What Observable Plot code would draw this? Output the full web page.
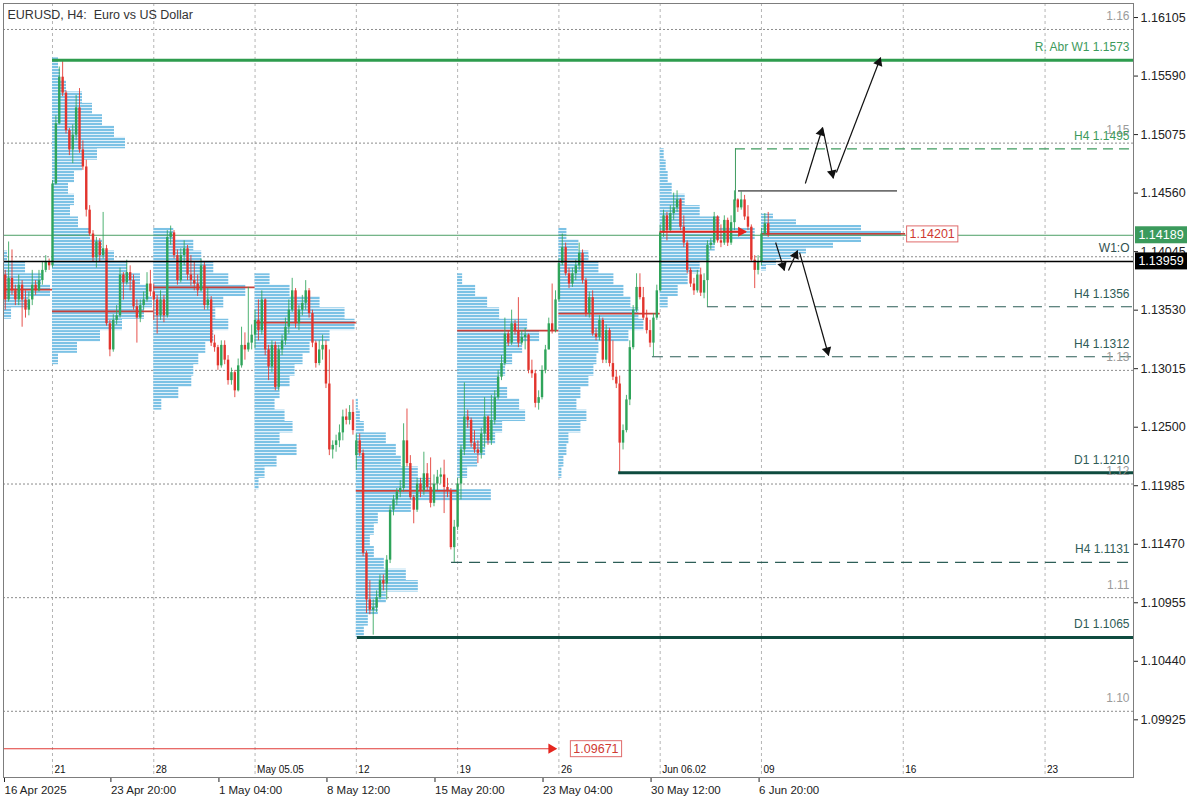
<!DOCTYPE html>
<html>
<head>
<meta charset="utf-8">
<script src="https://cdn.jsdelivr.net/npm/d3@7"></script>
<script src="https://cdn.jsdelivr.net/npm/@observablehq/plot@0.6"></script>
<style>
  html, body { margin: 0; padding: 0; background: #fff; }
  #chart { width: 1200px; height: 800px; }
  #chart svg { display: block; }
</style>
</head>
<body>
<div id="chart"></div>
<script>
// ---------------- DATA ----------------
// H4 bars, x = bar index (0 = Mon 21 Apr 2025 00:00)
const firstBar = -14;
const firstOpen = 1.1384;
const gapOpen = {90: 1.1225};

const closePrices = [
  1.1362,1.1381,1.1370,1.1362,1.1375,1.1362,1.1353,1.1362,1.1375,1.1370,1.1379,1.1388,1.1395,1.1392,
  1.1464,1.1517,1.1558,1.1544,1.1511,1.1494,1.1507,1.1531,1.1494,1.1479,1.1441,1.1420,1.1399,1.1413,1.1401,1.1407,1.1341,1.1318,1.1344,1.1348,1.1384,1.1377,1.1386,1.1379,1.1356,1.1346,1.1357,1.1362,1.1376,1.1369,
  1.1362,1.1348,1.1362,1.1348,1.1417,1.1421,1.1401,1.1379,1.1401,1.1407,1.1384,1.1379,1.1376,1.1370,1.1392,1.1357,1.1362,1.1324,1.1320,1.1304,1.1322,1.1309,1.1291,1.1298,1.1282,1.1304,1.1322,1.1318,1.1324,1.1331,
  1.1344,1.1335,1.1362,1.1318,1.1303,1.1322,1.1285,1.1318,1.1326,1.1338,1.1353,1.1370,1.1341,1.1353,1.1359,1.1370,1.1350,1.1324,1.1306,1.1318,1.1322,1.1288,1.1230,1.1234,1.1238,1.1245,1.1259,1.1256,1.1263,1.1247,
  1.1238,1.1227,1.1139,1.1098,1.1089,1.1091,1.1100,1.1115,1.1112,1.1133,1.1177,1.1186,1.1193,1.1196,1.1238,1.1218,1.1188,1.1177,1.1200,1.1194,1.1209,1.1197,1.1183,1.1200,1.1206,1.1208,1.1197,1.1194,1.1144,1.1162,
  1.1200,1.1230,1.1259,1.1256,1.1236,1.1230,1.1227,1.1244,1.1259,1.1238,1.1256,1.1276,1.1294,1.1306,1.1332,1.1324,1.1341,1.1335,1.1324,1.1329,1.1331,1.1300,1.1297,1.1271,1.1276,1.1300,1.1318,1.1341,1.1335,1.1362,
  1.1394,1.1408,1.1385,1.1376,1.1385,1.1392,1.1403,1.1379,1.1350,1.1364,1.1332,1.1329,1.1344,1.1309,1.1335,1.1306,1.1294,1.1288,1.1236,1.1247,1.1274,1.1320,1.1353,1.1373,1.1364,1.1346,1.1335,1.1324,1.1346,1.1370,
  1.1421,1.1436,1.1423,1.1438,1.1443,1.1450,1.1426,1.1412,1.1388,1.1376,1.1370,1.1384,1.1368,1.1379,1.1410,1.1412,1.1435,1.1414,1.1412,1.1432,1.1412,1.1430,1.1450,1.1443,1.1450,1.1435,1.1426,1.1397,1.1388,1.1395,
  1.1420,1.1429,1.14189
];
const highPrices = [
  1.1388,1.1413,1.1406,1.1375,1.1384,1.1379,1.1370,1.1369,1.1388,1.1379,1.1388,1.1395,1.1401,1.1398,
  1.1467,1.1524,1.1567,1.1573,1.1546,1.1513,1.1516,1.1542,1.1548,1.1502,1.1485,1.1445,1.1423,1.1417,1.1416,1.1439,1.1410,1.1344,1.1349,1.1357,1.1390,1.1386,1.1397,1.1392,1.1384,1.1362,1.1362,1.1369,1.1386,1.1388,
  1.1376,1.1366,1.1370,1.1366,1.1423,1.1427,1.1423,1.1406,1.1407,1.1414,1.1410,1.1401,1.1395,1.1384,1.1398,1.1395,1.1372,1.1365,1.1331,1.1322,1.1326,1.1326,1.1313,1.1302,1.1300,1.1310,1.1338,1.1333,1.1373,1.1340,
  1.1353,1.1362,1.1370,1.1363,1.1322,1.1326,1.1325,1.1322,1.1331,1.1346,1.1362,1.1381,1.1372,1.1357,1.1366,1.1379,1.1372,1.1353,1.1326,1.1326,1.1331,1.1326,1.1318,1.1238,1.1243,1.1252,1.1265,1.1266,1.1269,1.1274,
  1.1244,1.1244,1.1230,1.1141,1.1115,1.1098,1.1106,1.1120,1.1120,1.1137,1.1181,1.1190,1.1196,1.1203,1.1253,1.1266,1.1225,1.1190,1.1205,1.1205,1.1228,1.1218,1.1223,1.1208,1.1212,1.1214,1.1221,1.1205,1.1196,1.1168,
  1.1205,1.1234,1.1289,1.1265,1.1258,1.1247,1.1238,1.1249,1.1276,1.1260,1.1278,1.1282,1.1300,1.1313,1.1346,1.1335,1.1353,1.1344,1.1364,1.1335,1.1337,1.1332,1.1309,1.1300,1.1282,1.1304,1.1322,1.1346,1.1376,1.1370,
  1.1398,1.1420,1.1412,1.1390,1.1390,1.1397,1.1412,1.1406,1.1381,1.1369,1.1370,1.1337,1.1348,1.1346,1.1340,1.1337,1.1326,1.1300,1.1295,1.1252,1.1278,1.1326,1.1357,1.1385,1.1385,1.1373,1.1353,1.1344,1.1350,1.1375,
  1.1428,1.1441,1.1439,1.1445,1.1456,1.1458,1.1451,1.1436,1.1414,1.1390,1.1381,1.1388,1.1390,1.1385,1.1414,1.1416,1.1439,1.1436,1.1428,1.1436,1.1434,1.1436,1.1458,1.1451,1.1458,1.1454,1.1445,1.1428,1.1401,1.1401,
  1.1425,1.1438,1.1439
];
const lowPrices = [
  1.1353,1.1360,1.1366,1.1357,1.1357,1.1338,1.1346,1.1348,1.1357,1.1366,1.1369,1.1375,1.1386,1.1388,
  1.1390,1.1463,1.1516,1.1541,1.1508,1.1489,1.1482,1.1502,1.1491,1.1476,1.1435,1.1418,1.1395,1.1390,1.1395,1.1398,1.1339,1.1312,1.1316,1.1340,1.1346,1.1362,1.1375,1.1370,1.1353,1.1324,1.1342,1.1353,1.1360,1.1365,
  1.1344,1.1332,1.1344,1.1342,1.1346,1.1410,1.1398,1.1375,1.1377,1.1392,1.1379,1.1374,1.1370,1.1365,1.1369,1.1353,1.1353,1.1321,1.1316,1.1300,1.1302,1.1305,1.1287,1.1287,1.1276,1.1281,1.1302,1.1309,1.1316,1.1318,
  1.1319,1.1326,1.1331,1.1313,1.1291,1.1298,1.1282,1.1282,1.1313,1.1322,1.1332,1.1351,1.1337,1.1335,1.1348,1.1353,1.1346,1.1320,1.1302,1.1304,1.1309,1.1284,1.1225,1.1222,1.1228,1.1232,1.1238,1.1252,1.1252,1.1243,
  1.1212,1.1224,1.1136,1.1086,1.1085,1.1067,1.1087,1.1098,1.1106,1.1098,1.1130,1.1172,1.1181,1.1188,1.1193,1.1215,1.1186,1.1165,1.1175,1.1188,1.1190,1.1194,1.1179,1.1180,1.1194,1.1200,1.1174,1.1188,1.1142,1.1131,
  1.1159,1.1186,1.1225,1.1249,1.1232,1.1227,1.1218,1.1222,1.1232,1.1234,1.1234,1.1252,1.1274,1.1291,1.1304,1.1321,1.1322,1.1331,1.1320,1.1322,1.1318,1.1297,1.1293,1.1267,1.1265,1.1274,1.1297,1.1318,1.1332,1.1333,
  1.1360,1.1392,1.1383,1.1372,1.1373,1.1379,1.1388,1.1376,1.1347,1.1346,1.1330,1.1326,1.1326,1.1306,1.1306,1.1303,1.1291,1.1284,1.1210,1.1230,1.1245,1.1269,1.1318,1.1351,1.1362,1.1344,1.1332,1.1320,1.1312,1.1344,
  1.1369,1.1417,1.1414,1.1421,1.1432,1.1439,1.1423,1.1408,1.1385,1.1373,1.1366,1.1368,1.1365,1.1363,1.1356,1.1406,1.1410,1.1412,1.1408,1.1410,1.1409,1.1410,1.1423,1.1439,1.1441,1.1432,1.1423,1.1395,1.1372,1.1384,
  1.1392,1.1419,1.1417
];

// Weekly volume profiles (volume per price bin, listed from top bin downward)
const profileStart = [-14.5, 0, 30, 60, 90, 120, 150, 180, 210];
const profileTop   = [1.140, 1.157, 1.142, 1.138, 1.127, 1.138, 1.142, 1.149, 1.1435];
const profileStep  = [0.001, 0.001, 0.001, 0.001, 0.001, 0.001, 0.001, 0.001, 0.0005];
const profileVolume = [
  [4,22,38,47,25,8],
  [6,8,14,30,40,50,62,73,45,30,22,16,22,18,26,38,50,62,75,88,95,100,92,70,48,25,6],
  [20,40,48,60,75,92,70,62,75,60,52,45,40,38,25,8],
  [15,35,65,90,100,75,55,48,40,35,25,20,30,38,25,42,22,10,4],
  [2,4,8,30,40,45,62,75,135,55,22,18,14,18,28,50,62,30,22,12,8],
  [5,18,30,42,70,82,65,55,48,42,50,62,68,45,38,28,20,10],
  [8,20,30,40,55,65,72,80,85,70,40,38,35,30,22,18,28,22,10,8,5,3],
  [4,6,8,12,25,40,60,95,55,50,40,28,18,8],
  [12,35,100,140,100,72,45,30,15,5]
];
const barsPerVolume = 1 / 3.376;   // profile width scale

// Point of control of each weekly profile
const pocFrom  = [-14.5, 0, 30, 60, 90, 120, 150];
const pocTo    = [0, 30, 60, 90, 120, 150, 180];
const pocPrice = [1.1371, 1.1352, 1.1373, 1.1342, 1.1194, 1.1335, 1.1350];
// red arrow lines (POC carried forward)
const redArrowFrom  = [180, -14.5];
const redArrowTo    = [205.5, 149.3];
const redArrowPrice = [1.1422, 1.09671];
// current week POC
const currentPocFrom = 210, currentPocTo = 252.7, currentPocPrice = 1.14201;
const boxedLabels = ["1.14201", "1.09671"];
const boxedX = [252.7, 153.1];
const boxedPrice = [1.14201, 1.09671];

// Levels
const levelLabel = ["R. Abr W1 1.1573", "H4 1.1495", "W1:O", "H4 1.1356", "H4 1.1312", "D1 1.1210", "H4 1.1131", "D1 1.1065"];
const levelPrice = [1.1573, 1.1495, 1.13959, 1.1356, 1.1312, 1.1210, 1.1131, 1.1065];
const levelFrom  = [0, 202.3, -14.514, 194, 177.7, 167.7, 118.2, 90.3];
const levelKind  = ["weekly", "h4up", "open", "h4", "h4", "d1", "h4", "d1"];
const currentPrice = 1.14189;
const weekOpen = 1.13959;
const grayLevel = {from: 203.2, to: 250.3, price: 1.1458};
const connector = {x: 202.3, from: 1.1449, to: 1.1495};

// Round-number levels (the 1.14 label is hidden behind W1:O in the reference)
const roundLevels = [1.16, 1.15, 1.14, 1.13, 1.12, 1.11, 1.10];
const roundLabels = ["1.16", "1.15", "", "1.13", "1.12", "1.11", "1.10"];

// Week separators
const weekGrid = [0, 30, 60, 90, 120, 150, 180, 210, 252, 294];
const weekLabels = ["21", "28", "May 05.05", "12", "19", "26", "Jun 06.02", "09", "16", "23"];

// Time axis
const timeTicks  = [-14.514, 17, 49, 81, 113, 145, 177, 209];
const timeLabels = ["16 Apr 2025", "23 Apr 20:00", "1 May 04:00", "8 May 12:00", "15 May 20:00", "23 May 04:00", "30 May 12:00", "6 Jun 20:00"];

// Price axis
const priceTicks = [1.16105, 1.15590, 1.15075, 1.14560, 1.14045, 1.13530, 1.13015, 1.12500, 1.11985, 1.11470, 1.10955, 1.10440, 1.09925];

// Scenario arrows
const arrowX1 = [223.0, 228.1, 232.2, 214.2, 218.0, 221.3];
const arrowY1 = [1.14645, 1.15137, 1.14741, 1.14125, 1.13879, 1.14037];
const arrowX2 = [228.1, 231.3, 245.3, 216.8, 220.7, 229.9];
const arrowY2 = [1.15137, 1.14690, 1.15753, 1.13879, 1.14055, 1.13131];

const title = "EURUSD, H4:\u00a0\u00a0Euro vs US Dollar";

// ---------------- BUILD ----------------
const xDomain = [-14.514, 320.2];
const yDomain = [1.094174, 1.162286];
const W = 1200, H = 800, mL = 3, mR = 67, mT = 3, mB = 23;

const upColor = "#2fa45a", downColor = "#e2342d";

const candles = closePrices.map((c, k) => {
  const i = firstBar + k;
  const o = k === 0 ? firstOpen : (gapOpen[i] ?? closePrices[k - 1]);
  const c2 = Math.abs(c - o) < 0.00004 ? o - 0.00004 : c;
  return {i, o, c: c2, h: highPrices[k], l: lowPrices[k], up: c >= o};
});

const bins = [];
profileVolume.forEach((vols, p) => {
  vols.forEach((v, j) => {
    const mid = profileTop[p] - j * profileStep[p];
    bins.push({x1: profileStart[p], x2: profileStart[p] + v * barsPerVolume,
               y1: mid - profileStep[p] / 2, y2: mid + profileStep[p] / 2});
  });
});

const pocs = pocFrom.map((f, k) => ({from: f, to: pocTo[k], price: pocPrice[k]}));
pocs.push({from: currentPocFrom, to: currentPocTo, price: currentPocPrice});

const levels = levelLabel.map((t, k) => ({label: t, price: levelPrice[k], from: levelFrom[k], kind: levelKind[k]}));
const kindStyle = {
  weekly: {stroke: "#2e9c4e", width: 3, dash: null, text: "#3d9a5c"},
  h4up:   {stroke: "#3f9b5f", width: 1.2, dash: "10,6", text: "#3d9a5c"},
  open:   {stroke: "#000000", width: 1.5, dash: null, text: "#2f4f4f"},
  h4:     {stroke: "#2d5e57", width: 1.2, dash: "11,7", text: "#2f5c57"},
  d1:     {stroke: "#0e4b3f", width: 3, dash: null, text: "#2f5c57"}
};

const xs = Plot.scale({x: {domain: xDomain, range: [mL, W - mR]}});
const ys = Plot.scale({y: {domain: yDomain, range: [H - mB, mT]}});
function head(x1, y1, x2, y2) {
  const px1 = xs.apply(x1), py1 = ys.apply(y1), px2 = xs.apply(x2), py2 = ys.apply(y2);
  const dx = px2 - px1, dy = py2 - py1, len = Math.hypot(dx, dy);
  const back = 5.2;
  return {x: xs.invert(px2 - dx / len * back), y: ys.invert(py2 - dy / len * back),
          rotate: Math.atan2(dx, -dy) * 180 / Math.PI};
}
const arrows = arrowX1.map((x, k) => ({x1: x, y1: arrowY1[k], x2: arrowX2[k], y2: arrowY2[k]}));
const arrowHeads = arrows.map(a => head(a.x1, a.y1, a.x2, a.y2));
const redArrows = redArrowFrom.map((f, k) => ({x1: f, x2: redArrowTo[k], y: redArrowPrice[k]}));
const redHeads = redArrows.map(a => head(a.x1, a.y, a.x2, a.y));

const levelMarks = [];
for (const kind of Object.keys(kindStyle)) {
  const s = kindStyle[kind];
  levelMarks.push(Plot.ruleY(levels.filter(d => d.kind === kind), {
    y: "price", x1: "from", x2: xDomain[1], stroke: s.stroke, strokeWidth: s.width,
    strokeDasharray: s.dash || undefined
  }));
}

const roundText = roundLevels.map((v, i) => ({v, t: roundLabels[i]})).filter(d => d.t);

const plot = Plot.plot({
  width: W, height: H,
  marginLeft: mL, marginRight: mR, marginTop: mT, marginBottom: mB,
  x: {domain: xDomain},
  y: {domain: yDomain},
  style: {fontFamily: "'Liberation Sans', Arial, sans-serif", fontSize: "12px", color: "#222", background: "#fff", overflow: "visible"},
  marks: [
    Plot.ruleX(weekGrid, {x: d => d, stroke: "#b5b5b5", strokeDasharray: "3,3", strokeWidth: 1}),
    Plot.ruleY(roundLevels, {y: d => d, stroke: "#8c8c8c", strokeDasharray: "2,2", strokeWidth: 1}),
    Plot.rect(bins, {x1: "x1", x2: "x2", y1: "y1", y2: "y2", fill: "url(#vpStripes)"}),
    Plot.ruleY(pocs, {y: "price", x1: "from", x2: "to", stroke: "#c8403a", strokeWidth: 1.8}),
    Plot.ruleY([currentPrice], {y: d => d, stroke: "#4c9f66", strokeWidth: 1}),
    // candles
    Plot.ruleX(candles, {x: "i", y1: "l", y2: "h", stroke: d => d.up ? upColor : downColor, strokeWidth: 1, strokeOpacity: 0.85}),
    Plot.ruleX(candles, {x: "i", y1: "o", y2: "c", stroke: d => d.up ? upColor : downColor, strokeWidth: 2.4}),
    // levels
    ...levelMarks,
    Plot.ruleX([connector], {x: "x", y1: "from", y2: "to", stroke: "#3f9b5f", strokeWidth: 1}),
    Plot.ruleY([grayLevel], {y: "price", x1: "from", x2: "to", stroke: "#707070", strokeWidth: 1.6}),
    // red arrows
    Plot.ruleY(redArrows, {y: "y", x1: "x1", x2: "x2", stroke: (d, i) => i === 0 ? "#e5261f" : "#e03a36", strokeWidth: (d, i) => i === 0 ? 2 : 1.1}),
    Plot.dot(redHeads, {x: "x", y: "y", rotate: "rotate", symbol: "triangle", r: 3.8, fill: "#e5261f", stroke: "none"}),
    // scenario arrows
    Plot.link(arrows, {x1: "x1", y1: "y1", x2: "x2", y2: "y2", stroke: "#111", strokeWidth: 1.2}),
    Plot.dot(arrowHeads, {x: "x", y: "y", rotate: "rotate", symbol: "triangle", r: 3.6, fill: "#111", stroke: "none"}),
    // labels
    Plot.text(roundText, {y: "v", text: "t", frameAnchor: "right", textAnchor: "end", dx: -4, dy: -13, fill: "#9b9b9b", fontSize: 12}),
    Plot.text(levels, {y: "price", text: "label", frameAnchor: "right", textAnchor: "end", dx: -4, dy: -13, fill: d => kindStyle[d.kind].text, fontSize: 12}),
    Plot.text(boxedLabels, {x: (d, i) => boxedX[i], y: (d, i) => boxedPrice[i], text: d => d, textAnchor: "start", dx: 4, fill: "#cf3a32", fontSize: 12.5}),
    Plot.text(weekGrid, {x: d => d, text: (d, i) => weekLabels[i], frameAnchor: "bottom", lineAnchor: "middle", dy: -8, dx: 2, textAnchor: "start", fontSize: 10, fill: "#111"}),
    Plot.text([title], {frameAnchor: "top-left", lineAnchor: "middle", dx: 4, dy: 11, textAnchor: "start", fontSize: 12.5, fill: "#333"}),
    // axes
    Plot.axisY({anchor: "right", ticks: priceTicks, tickFormat: d => d.toFixed(5), tickSize: 4, tickPadding: 3, fontSize: 12.5, label: null}),
    Plot.axisX({anchor: "bottom", ticks: timeTicks, tickFormat: d => timeLabels[timeTicks.indexOf(d)], tickSize: 5, tickPadding: 3, textAnchor: "start", dx: 1, fontSize: 11.5, label: null}),
    Plot.frame({stroke: "#7d7d7d"})
  ]
});

document.getElementById("chart").appendChild(plot);

// ---------------- DECORATION (pattern, boxes, badges) ----------------
const svg = d3.select(plot);
const defs = svg.insert("defs", ":first-child");
const pat = defs.append("pattern").attr("id", "vpStripes").attr("patternUnits", "userSpaceOnUse")
  .attr("width", 8).attr("height", 3);
pat.append("rect").attr("width", 8).attr("height", 3).attr("fill", "#e2f1fa");
pat.append("rect").attr("width", 8).attr("height", 2).attr("fill", "#7cc2e5");

svg.selectAll("text").filter(function () { return boxedLabels.includes(this.textContent); }).each(function () {
  const bb = this.getBBox();
  const r = document.createElementNS("http://www.w3.org/2000/svg", "rect");
  r.setAttribute("x", bb.x - 3); r.setAttribute("y", bb.y - 1);
  r.setAttribute("width", bb.width + 6); r.setAttribute("height", bb.height + 2);
  r.setAttribute("fill", "#fff"); r.setAttribute("stroke", "#e06b6b"); r.setAttribute("stroke-width", 1);
  const t = this.getAttribute("transform"); if (t) r.setAttribute("transform", t);
  this.parentNode.insertBefore(r, this);
});

const sy = plot.scale("y");
const sx = plot.scale("x");
const xRight = sx.apply(xDomain[1]);
const badges = [{v: currentPrice, bg: "#3b9a5c"}, {v: weekOpen, bg: "#000"}];
const gb = svg.append("g");
for (const b of badges) {
  const y = sy.apply(b.v);
  gb.append("rect").attr("x", xRight + 2).attr("y", y - 8.5).attr("width", 52).attr("height", 17).attr("fill", b.bg);
  gb.append("text").attr("x", xRight + 28).attr("y", y).attr("dy", "0.35em").attr("text-anchor", "middle")
    .attr("fill", "#fff").attr("font-size", 12.5).text(b.v.toFixed(5));
}
</script>
</body>
</html>
